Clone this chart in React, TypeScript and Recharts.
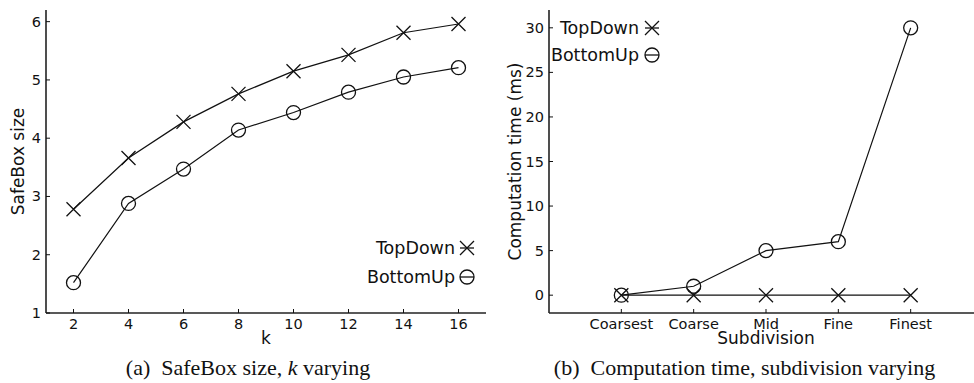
import React from 'react'
import { LineChart, Line, XAxis, YAxis, Legend } from 'recharts'

// (a) SafeBox size vs k
const kValues = [2, 4, 6, 8, 10, 12, 14, 16]
const topDownSize = [2.78, 3.66, 4.28, 4.76, 5.15, 5.43, 5.81, 5.96]
const bottomUpSize = [1.52, 2.88, 3.47, 4.14, 4.44, 4.79, 5.05, 5.21]
const sizeTicks = [1, 2, 3, 4, 5, 6]

// (b) computation time vs subdivision
const subdivisions = ['Coarsest', 'Coarse', 'Mid', 'Fine', 'Finest']
const subdivisionPos = [1, 2, 3, 4, 5]
const topDownTime = [0, 0, 0, 0, 0]
const bottomUpTime = [0, 1, 5, 6, 30]
const timeTicks = [0, 5, 10, 15, 20, 25, 30]

const seriesOrder = ['topDown', 'bottomUp']

const SANS = '"DejaVu Sans", sans-serif'
const SERIF = '"Liberation Serif", serif'
const INK = '#111'
const FRAME = { stroke: '#222', strokeWidth: 1.6 }

const crossPath = (cx: number, cy: number, s = 7) =>
    `M${cx - s},${cy - s}L${cx + s},${cy + s}M${cx - s},${cy + s}L${cx + s},${cy - s}`

const renderCross = (props: any) => {
    const { cx, cy, index } = props
    if (cx == null || cy == null) return <g key={`x-${index}`} />
    return <path key={`x-${index}`} d={crossPath(cx, cy)} stroke={INK} strokeWidth={1.3} fill="none" />
}

const renderCircle = (props: any) => {
    const { cx, cy, index } = props
    if (cx == null || cy == null) return <g key={`o-${index}`} />
    return <circle key={`o-${index}`} cx={cx} cy={cy} r={7} stroke={INK} strokeWidth={1.3} fill="none" />
}

// inward ticks, gnuplot style
const bottomTick = (labels?: string[]) => (props: any) => {
    const { x, y, payload } = props
    const text = labels ? labels[payload.value - 1] : String(payload.value)
    return (
        <g>
            <line x1={x} y1={y} x2={x} y2={y - 4} stroke={INK} />
            <text x={x} y={y + 15.5} textAnchor="middle" fontFamily={SANS} fontSize={14.5} fill={INK}>{text}</text>
        </g>
    )
}
const topTick = (props: any) => <line x1={props.x} y1={props.y} x2={props.x} y2={props.y + 4} stroke={INK} />
const leftTick = (props: any) => {
    const { x, y, payload } = props
    return (
        <g>
            <line x1={x} y1={y} x2={x + 4} y2={y} stroke={INK} />
            <text x={x - 5} y={y} textAnchor="end" dominantBaseline="central" fontFamily={SANS} fontSize={14.5} fill={INK}>{payload.value}</text>
        </g>
    )
}
const rightTick = (props: any) => <line x1={props.x} y1={props.y} x2={props.x - 4} y2={props.y} stroke={INK} />

const xTitle = (text: string) => (props: any) => {
    const vb = props.viewBox || { x: 0, y: 0, width: 0 }
    return (
        <text x={vb.x + vb.width / 2} y={vb.y + 30.5} textAnchor="middle" fontFamily={SANS} fontSize={17} fill={INK}>{text}</text>
    )
}
const yTitle = (text: string, cx: number) => (props: any) => {
    const vb = props.viewBox || { x: 0, y: 0, height: 0 }
    const cy = vb.y + vb.height / 2
    return (
        <text x={vb.x + cx} y={cy} transform={`rotate(-90 ${vb.x + cx} ${cy})`} textAnchor="middle" dominantBaseline="central" fontFamily={SANS} fontSize={17} fill={INK}>{text}</text>
    )
}

const makeLegend = (textX: number, markerX: number, rows: number[]) => (props: any) => {
    const items = props.payload || []
    return (
        <svg width={180} height={70} style={{ overflow: 'visible', display: 'block' }}>
            {items.map((it: any) => {
                const row = Math.max(0, seriesOrder.indexOf(it.dataKey))
                const y = rows[row]
                const isCircle = it.dataKey === 'bottomUp'
                return (
                    <g key={it.value}>
                        <text x={textX} y={y} textAnchor="end" dominantBaseline="central" fontFamily={SANS} fontSize={17.5} fill={INK}>{it.value}</text>
                        <line x1={markerX - 7} x2={markerX + 7} y1={y} y2={y} stroke={INK} strokeWidth={1.3} />
                        {isCircle
                            ? <circle cx={markerX} cy={y} r={7} stroke={INK} strokeWidth={1.3} fill="none" />
                            : <path d={crossPath(markerX, y)} stroke={INK} strokeWidth={1.3} fill="none" />}
                    </g>
                )
            })}
        </svg>
    )
}

export default function App() {
    const sizeData = kValues.map((k, i) => ({ k, topDown: topDownSize[i], bottomUp: bottomUpSize[i] }))
    const timeData = subdivisionPos.map((p, i) => ({ pos: p, topDown: topDownTime[i], bottomUp: bottomUpTime[i] }))

    return (
        <div style={{ position: 'absolute', left: 0, top: 0, width: 974, height: 383, overflow: 'hidden', background: '#fff' }}>
            <div style={{ position: 'absolute', left: 0, top: 0 }}>
                <LineChart width={487} height={383} data={sizeData} margin={{ top: 10, right: 1, bottom: 0, left: 0 }}>
                    <XAxis dataKey="k" type="number" domain={[1, 17]} ticks={kValues} interval={0} height={70}
                        tickSize={0} tickMargin={0} tickLine={false} axisLine={FRAME} tick={bottomTick()} label={xTitle('k')} />
                    <XAxis xAxisId="top" orientation="top" type="number" domain={[1, 17]} ticks={kValues} interval={0} height={0}
                        tickSize={0} tickMargin={0} tickLine={false} axisLine={FRAME} tick={topTick} />
                    <YAxis type="number" domain={[1, 6.2]} ticks={sizeTicks} interval={0} width={46}
                        tickSize={0} tickMargin={0} tickLine={false} axisLine={FRAME} tick={leftTick} label={yTitle('SafeBox size', 18)} />
                    <YAxis yAxisId="right" orientation="right" type="number" domain={[1, 6.2]} ticks={sizeTicks} interval={0} width={0}
                        tickSize={0} tickMargin={0} tickLine={false} axisLine={FRAME} tick={rightTick} />
                    <Legend layout="vertical" align="center" verticalAlign="middle"
                        wrapperStyle={{ left: 340, top: 233, width: 180, height: 70 }}
                        content={makeLegend(115, 127, [15, 44])} />
                    <Line dataKey="topDown" name="TopDown" stroke={INK} strokeWidth={1.2} dot={renderCross} activeDot={false} isAnimationActive={false} />
                    <Line dataKey="bottomUp" name="BottomUp" stroke={INK} strokeWidth={1.2} dot={renderCircle} activeDot={false} isAnimationActive={false} />
                </LineChart>
            </div>
            <div style={{ position: 'absolute', left: 487, top: 0 }}>
                <LineChart width={500} height={383} data={timeData} margin={{ top: 10, right: 4, bottom: 0, left: 0 }}>
                    <XAxis dataKey="pos" type="number" domain={[0, 6]} ticks={subdivisionPos} interval={0} height={70}
                        tickSize={0} tickMargin={0} tickLine={false} axisLine={FRAME} tick={bottomTick(subdivisions)} label={xTitle('Subdivision')} />
                    <XAxis xAxisId="top" orientation="top" type="number" domain={[0, 6]} ticks={subdivisionPos} interval={0} height={0}
                        tickSize={0} tickMargin={0} tickLine={false} axisLine={FRAME} tick={topTick} />
                    <YAxis type="number" domain={[-2, 32]} ticks={timeTicks} interval={0} width={62}
                        tickSize={0} tickMargin={0} tickLine={false} axisLine={FRAME} tick={leftTick} label={yTitle('Computation time (ms)', 28)} />
                    <YAxis yAxisId="right" orientation="right" type="number" domain={[-2, 32]} ticks={timeTicks} interval={0} width={0}
                        tickSize={0} tickMargin={0} tickLine={false} axisLine={FRAME} tick={rightTick} />
                    <Legend layout="vertical" align="center" verticalAlign="middle"
                        wrapperStyle={{ left: 40, top: 13, width: 180, height: 70 }}
                        content={makeLegend(112, 125, [15, 42])} />
                    <Line dataKey="topDown" name="TopDown" stroke={INK} strokeWidth={1.2} dot={renderCross} activeDot={false} isAnimationActive={false} />
                    <Line dataKey="bottomUp" name="BottomUp" stroke={INK} strokeWidth={1.2} dot={renderCircle} activeDot={false} isAnimationActive={false} />
                </LineChart>
            </div>
            <svg width={974} height={383} style={{ position: 'absolute', left: 0, top: 0, pointerEvents: 'none' }}>
                <text x={248} y={375} textAnchor="middle" fontFamily={SERIF} fontSize={22} fill={INK}>
                    {'(a)\u2002SafeBox size, '}<tspan fontStyle="italic">k</tspan>{' varying'}
                </text>
                <text x={744.5} y={375} textAnchor="middle" fontFamily={SERIF} fontSize={22} fill={INK}>
                    {'(b)\u2002Computation time, subdivision varying'}
                </text>
            </svg>
        </div>
    )
}
